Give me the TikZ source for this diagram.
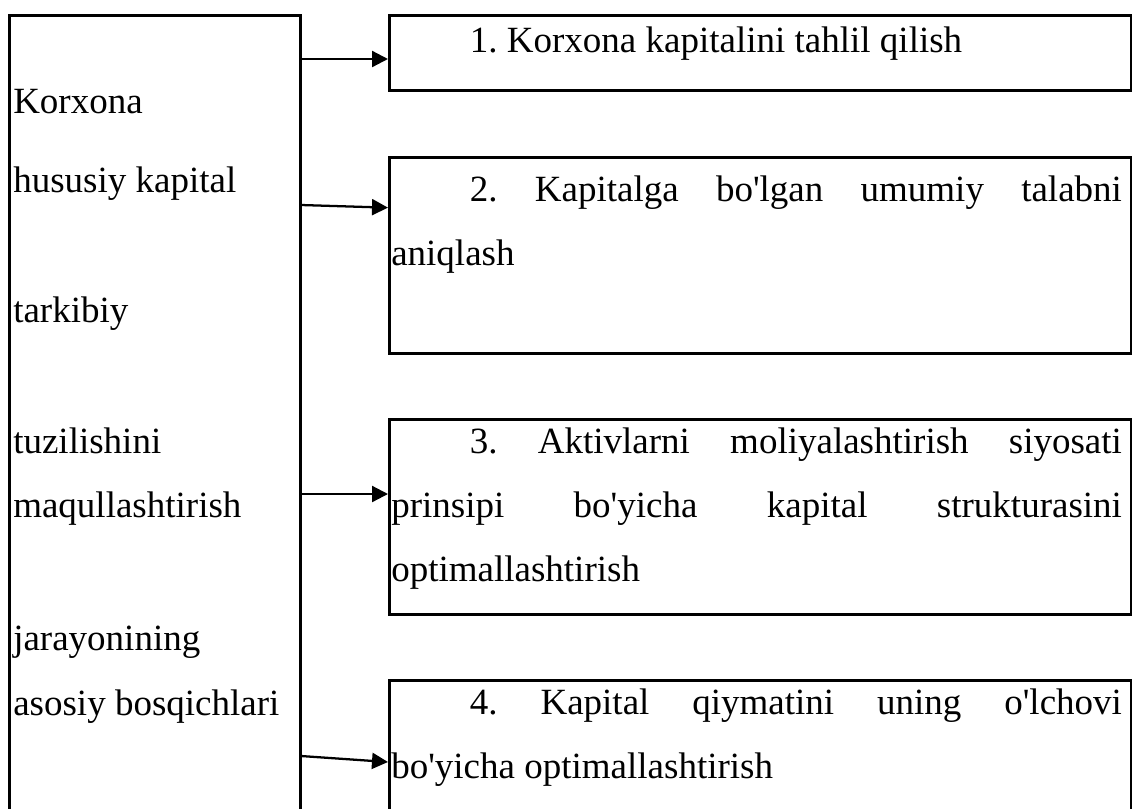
\documentclass[tikz,border=0pt]{standalone}
\usepackage{fontspec}
\setmainfont{Liberation Serif}
\usetikzlibrary{arrows.meta}

\tikzset{
  box/.style={draw, line width=1.9pt, inner sep=0pt, anchor=north west, minimum width=556.5pt},
  txt/.style={font=\fontsize{27.75}{48}\selectfont, inner sep=0pt, anchor=base west},
  para/.style={txt, text width=548pt, align=justify},
  arr/.style={-{Triangle[length=12pt,width=12pt]}, line width=1.7pt},
}

\begin{document}
\frenchspacing
\begin{tikzpicture}[x=0.75pt,y=0.75pt,yscale=-1,xscale=1]
\useasboundingbox (0,0) rectangle (1132,808);
\clip (0,0) rectangle (1132,808);

%Left box (open at the bottom)
\node[box, minimum width=218.25pt, minimum height=650pt] (lbox) at (8,14) {};
\foreach \y/\t [count=\i] in {113/Korxona, 192/hususiy kapital, 322/tarkibiy, 453/tuzilishini, 517/maqullashtirish, 650/jarayonining, 715/asosiy bosqichlari}
  \node[txt] (lt\i) at (13,\y) {\t};

%Right boxes
\node[box, minimum height=56.25pt] (b1) at (388,14) {};
\node[box, minimum height=147pt] (b2) at (388,156) {};
\node[box, minimum height=146.25pt] (b3) at (388,418) {};
\node[box, minimum height=150pt] (b4) at (388,679) {};

% Text Node
\node[para] (t1) at (391,52) {\hspace*{59pt}1. Korxona kapitalini tahlil qilish};
% Text Node
\node[para] (t2) at (391,201) {\hspace*{59pt}2. Kapitalga bo\textquotesingle lgan umumiy talabni\linebreak aniqlash};
% Text Node
\node[para] (t3) at (391,453) {\hspace*{59pt}3. Aktivlarni moliyalashtirish siyosati\linebreak prinsipi bo\textquotesingle yicha kapital strukturasini\linebreak optimallashtirish};
% Text Node
\node[para] (t4) at (391,714) {\hspace*{59pt}4. Kapital qiymatini uning o\textquotesingle lchovi\linebreak bo\textquotesingle yicha optimallashtirish};

%Arrows
\coordinate (s1) at (301,59);
\coordinate (s2) at (301,205);
\coordinate (s3) at (301,494);
\coordinate (s4) at (301,756);
\draw[arr] (s1) -- (s1 -| b1.west);
\draw[arr] (s2) -- ([yshift=2pt]s2 -| b2.west);
\draw[arr] (s3) -- (s3 -| b3.west);
\draw[arr] (s4) -- ([yshift=4.5pt]s4 -| b4.west);

\end{tikzpicture}
\end{document}
